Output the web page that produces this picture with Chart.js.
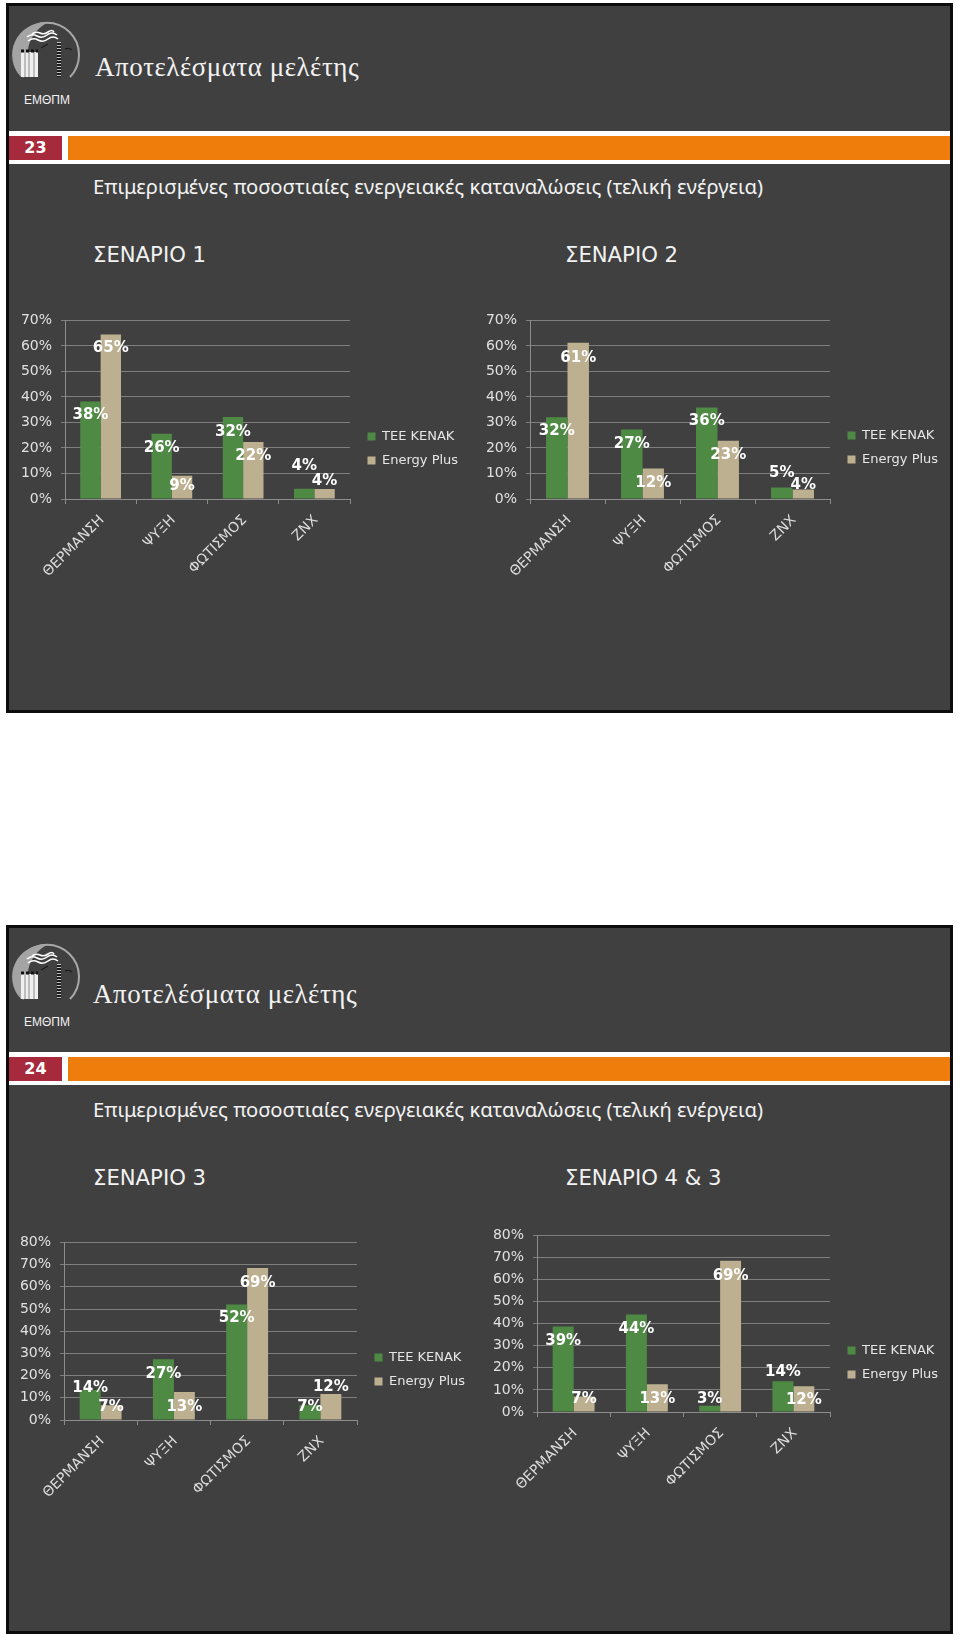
<!DOCTYPE html>
<html lang="el">
<head>
<meta charset="utf-8">
<title>Αποτελέσματα μελέτης</title>
<script src="https://cdn.jsdelivr.net/npm/chart.js@4"></script>
<style>
  html, body { margin: 0; padding: 0; background: #fff; }
  #page { position: relative; width: 960px; height: 1635px; overflow: hidden; }
  .slide { position: absolute; left: 6px; width: 941px; background: #404040; border: 3px solid #0c0c0c; }
  .band { position: absolute; width: 941px; height: 33px; background: #fff; }
  .num { position: absolute; width: 53px; height: 24px; background: #a62a3c; color: #fff; font: bold 16px "DejaVu Sans", sans-serif; line-height: 24px; text-align: center; }
  .bar { position: absolute; width: 882px; height: 24px; background: #ef7d0b; }
  .txt { position: absolute; color: #f2f2f2; white-space: nowrap; }
  .title { font: 27px "Liberation Serif", serif; letter-spacing: 0.5px; }
  .sub { font: 20.2px "Noto Sans", sans-serif; }
  .scen { font: 21.2px "DejaVu Sans", sans-serif; }
  .logoText { font: 12px "Liberation Sans", sans-serif; }
  canvas { position: absolute; }
  svg { position: absolute; }
</style>
</head>
<body>
<div id="page"></div>
<script>
const categories = ['ΘΕΡΜΑΝΣΗ', 'ΨΥΞΗ', 'ΦΩΤΙΣΜΟΣ', 'ΖΝΧ'];
const seriesNames = ['ΤΕΕ ΚΕΝΑΚ', 'Energy Plus'];

const scenario1Tee = [38.2, 25.6, 32.1, 4.0];
const scenario1Energy = [64.5, 9.1, 22.3, 3.9];
const scenario2Tee = [32.0, 27.2, 35.9, 4.5];
const scenario2Energy = [61.2, 12.0, 22.8, 3.7];
const scenario3Tee = [13.5, 27.4, 52.0, 6.7];
const scenario3Energy = [6.7, 12.6, 68.5, 11.7];
const scenario43Tee = [38.7, 44.2, 2.8, 13.9];
const scenario43Energy = [7.0, 12.6, 68.5, 11.7];

const axisMax1 = 70;
const axisMax2 = 80;

const page = document.getElementById('page');

function addDiv(className, left, top, text) {
    const el = document.createElement('div');
    el.className = className;
    el.style.left = left + 'px';
    el.style.top = top + 'px';
    if (text) el.textContent = text;
    page.appendChild(el);
    return el;
}

function drawLogo(top) {
    const ns = 'http://www.w3.org/2000/svg';
    const svg = document.createElementNS(ns, 'svg');
    svg.setAttribute('width', 90);
    svg.setAttribute('height', 90);
    svg.style.left = '1px';
    svg.style.top = top + 'px';
    svg.innerHTML = `
        <path d="M23 77 A32 32 0 1 1 69 77" stroke="#a8a8a8" stroke-width="2" fill="none"/>
        <path d="M20 77 A32 32 0 0 1 46 23 A36 36 0 0 0 34 77 Z" fill="#a4a4a4"/>
        <path d="M26 37 q5 -4 10 -1 t10 -1 t10 0 M27 41 q5 -4 10 -1 t10 -1 t10 0 M31 34 q4 -3 8 -1 t8 -1 t6 0" stroke="#fff" stroke-width="1.6" fill="none"/>
        <rect x="20" y="52" width="17" height="25" fill="#f0f0f0"/>
        <path d="M24 52 v25 M28 52 v25 M33 52 v25" stroke="#8a8a8a" stroke-width="1"/>
        <path d="M20 51 h17" stroke="#111" stroke-width="3" stroke-dasharray="3 2"/>
        <rect x="56" y="42" width="4" height="35" fill="#1a1a1a"/>
        <path d="M58 42 v35" stroke="#c4c4c4" stroke-width="4" stroke-dasharray="1 2"/>
        <path d="M40 48 l7 -4 M64 49 q4 -2 7 1" stroke="#111" stroke-width="1" fill="none"/>`;
    page.appendChild(svg);
}

function drawSlideFrame(top, height, number, titleLeft, titleTop, bandTop, subTop, scenTop, scenNames) {
    const slide = addDiv('slide', 6, top);
    slide.style.height = height + 'px';
    drawLogo(top - 3);
    addDiv('txt logoText', 24, top + 90, 'ΕΜΘΠΜ');
    addDiv('txt title', titleLeft, titleTop, 'Αποτελέσματα μελέτης');
    addDiv('band', 9, bandTop);
    addDiv('num', 9, bandTop + 4.5, number);
    addDiv('bar', 68, bandTop + 4.5);
    addDiv('txt sub', 93, subTop, 'Επιμερισμένες ποσοστιαίες ενεργειακές καταναλώσεις (τελική ενέργεια)');
    addDiv('txt scen', 93, scenTop, scenNames[0]);
    addDiv('txt scen', 565, scenTop, scenNames[1]);
}

drawSlideFrame(3, 704, '23', 95, 52, 131, 172, 242, ['ΣΕΝΑΡΙΟ 1', 'ΣΕΝΑΡΙΟ 2']);
drawSlideFrame(925, 703, '24', 93, 979, 1052, 1095, 1165, ['ΣΕΝΑΡΙΟ 3', 'ΣΕΝΑΡΙΟ 4 & 3']);

// moves the legend next to the plot and places the value labels on the bars
const slidePlugin = {
    id: 'slidePlugin',
    afterLayout(chart) {
        const o = chart.options.plugins.slidePlugin;
        const legend = chart.legend;
        const h = legend.bottom - legend.top;
        legend.left = chart.chartArea.right + 6.5;
        legend.right = legend.left + legend.width;
        legend.top = o.legendTop;
        legend.bottom = legend.top + h;
    },
    afterDatasetsDraw(chart) {
        const o = chart.options.plugins.slidePlugin;
        const ctx = chart.ctx;
        ctx.save();
        ctx.font = 'bold 15px "DejaVu Sans"';
        ctx.fillStyle = '#ffffff';
        ctx.textAlign = 'center';
        ctx.textBaseline = 'middle';
        chart.data.datasets.forEach((ds, i) => {
            chart.getDatasetMeta(i).data.forEach((bar, j) => {
                ctx.fillText(Math.round(ds.data[j]) + '%', bar.x, bar.y + o.labelShift[i][j]);
            });
        });
        ctx.restore();
    }
};

function drawChart(cfg) {
    const canvas = document.createElement('canvas');
    canvas.width = cfg.width;
    canvas.height = cfg.height;
    canvas.style.left = cfg.left + 'px';
    canvas.style.top = cfg.top + 'px';
    canvas.style.width = cfg.width + 'px';
    canvas.style.height = cfg.height + 'px';
    page.appendChild(canvas);

    const ctx = canvas.getContext('2d');
    ctx.font = '13px "DejaVu Sans"';
    const legendWidth = 2 * 11 + 8 + 6.5 + ctx.measureText(seriesNames[1]).width;
    const paddingRight = cfg.width - (cfg.plotRight - cfg.left) - legendWidth;

    new Chart(ctx, {
        type: 'bar',
        plugins: [slidePlugin],
        data: {
            labels: categories,
            datasets: [
                { label: seriesNames[0], data: cfg.tee, backgroundColor: '#4f8a45' },
                { label: seriesNames[1], data: cfg.energy, backgroundColor: '#bdb090' }
            ]
        },
        options: {
            responsive: false,
            animation: false,
            devicePixelRatio: 1,
            layout: { padding: { top: 0, right: paddingRight, bottom: 0, left: 0 } },
            datasets: { bar: { barPercentage: 1, categoryPercentage: 0.572 } },
            plugins: {
                tooltip: { enabled: false },
                legend: {
                    position: 'right',
                    align: 'start',
                    labels: {
                        boxWidth: 8,
                        boxHeight: 8,
                        padding: 11,
                        color: '#e6e6e6',
                        font: { family: 'DejaVu Sans', size: 13 }
                    }
                },
                slidePlugin: { legendTop: cfg.legendTop - cfg.top, labelShift: cfg.labelShift }
            },
            scales: {
                x: {
                    afterFit(scale) { scale.height = cfg.top + cfg.height - cfg.plotBottom; },
                    border: { color: '#8c8c8c' },
                    grid: { drawOnChartArea: false, color: '#8c8c8c', tickLength: 5 },
                    ticks: {
                        autoSkip: false,
                        maxRotation: 45,
                        minRotation: 45,
                        padding: 8,
                        labelOffset: 1.5,
                        color: '#dcdcdc',
                        font: { family: 'DejaVu Sans', size: 14 }
                    }
                },
                y: {
                    min: 0,
                    max: cfg.axisMax,
                    afterFit(scale) { scale.width = cfg.plotLeft - cfg.left; },
                    border: { color: '#8c8c8c' },
                    grid: { color: '#7e7e7e', tickLength: 4 },
                    ticks: {
                        stepSize: 10,
                        padding: 9,
                        color: '#e0e0e0',
                        font: { family: 'DejaVu Sans', size: 14 },
                        callback: value => value + '%'
                    }
                }
            }
        }
    });
}

drawChart({
    left: 9, top: 303, width: 470, height: 283,
    plotLeft: 65, plotRight: 349, plotBottom: 499, legendTop: 419,
    axisMax: axisMax1, tee: scenario1Tee, energy: scenario1Energy,
    labelShift: [[14, 14, 15, -23], [14, 10, 14, -8]]
});
drawChart({
    left: 482, top: 303, width: 470, height: 281,
    plotLeft: 530, plotRight: 829, plotBottom: 499, legendTop: 418,
    axisMax: axisMax1, tee: scenario2Tee, energy: scenario2Energy,
    labelShift: [[14, 15, 14, -14], [15, 15, 14, -4]]
});
drawChart({
    left: 9, top: 1225, width: 470, height: 281,
    plotLeft: 64, plotRight: 356, plotBottom: 1420, legendTop: 1340,
    axisMax: axisMax2, tee: scenario3Tee, energy: scenario3Energy,
    labelShift: [[-2, 15, 14, 2], [2, 15, 15, -7]]
});
drawChart({
    left: 482, top: 1218, width: 470, height: 282,
    plotLeft: 537, plotRight: 829, plotBottom: 1412, legendTop: 1333,
    axisMax: axisMax2, tee: scenario43Tee, energy: scenario43Energy,
    labelShift: [[15, 15, -7, -9], [3, 15, 15, 14]]
});
</script>
</body>
</html>
